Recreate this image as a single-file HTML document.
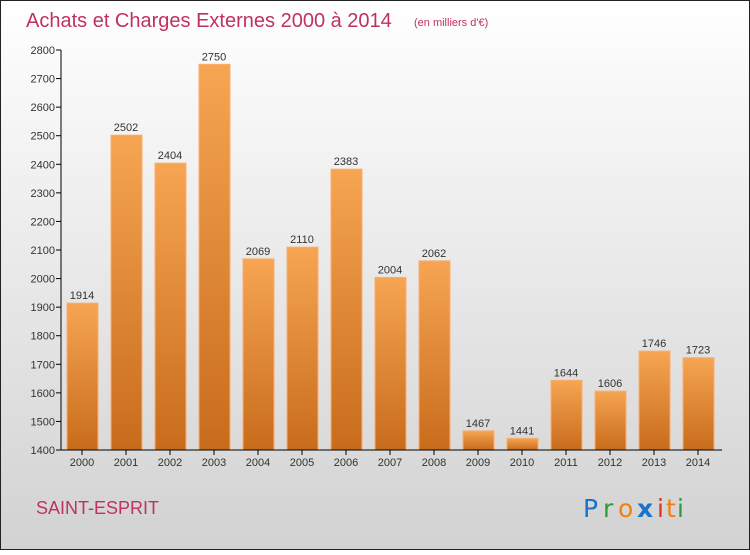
<!DOCTYPE html>
<html><head><meta charset="utf-8"><style>
html,body{margin:0;padding:0;}
body{width:750px;height:550px;overflow:hidden;font-family:"Liberation Sans",sans-serif;}
</style></head><body>
<svg id="chart" width="750" height="550" xmlns="http://www.w3.org/2000/svg">
<defs>
<linearGradient id="bg" x1="0" y1="0" x2="0" y2="1"><stop offset="0" stop-color="#ffffff"/><stop offset="1" stop-color="#d2d2d2"/></linearGradient>
<linearGradient id="bar" x1="0" y1="0" x2="0" y2="1"><stop offset="0" stop-color="#f6a553"/><stop offset="1" stop-color="#c86c1c"/></linearGradient>
</defs>
<rect x="0.5" y="0.5" width="749" height="549" fill="url(#bg)" stroke="#222"/>
<text x="26" y="27" font-size="20" fill="#c0325e">Achats et Charges Externes 2000 à 2014</text>
<text x="414" y="26" font-size="11" fill="#c0325e">(en milliers d'€)</text>
<text x="36" y="514" font-size="18" fill="#c0325e">SAINT-ESPRIT</text>
<g font-size="25" font-family="DejaVu Sans, sans-serif">
<text x="583" y="517" fill="#1a73c8">P</text><text x="603" y="517" fill="#2f9a3a">r</text><text x="618" y="517" fill="#f08010">o</text><text x="637" y="517" fill="#1a73c8" font-weight="bold">x</text><text x="657" y="517" fill="#e03020">i</text><text x="666" y="517" fill="#f08010">t</text><text x="677" y="517" fill="#2f9a3a">i</text>
</g>
<g id="plot"></g>
</svg>
<script>
const categories=["2000","2001","2002","2003","2004","2005","2006","2007","2008","2009","2010","2011","2012","2013","2014"];
const values=[1914,2502,2404,2750,2069,2110,2383,2004,2062,1467,1441,1644,1606,1746,1723];
const yTicks=[1400,1500,1600,1700,1800,1900,2000,2100,2200,2300,2400,2500,2600,2700,2800];
const NS="http://www.w3.org/2000/svg";
const g=document.getElementById('plot');
const y=v=>450-(v-1400)*400/1400;
const x=i=>82+i*44;
function mk(t,a){const e=document.createElementNS(NS,t);for(const k in a)e.setAttribute(k,a[k]);g.appendChild(e);return e;}
yTicks.forEach(t=>{
  const l=mk('line',{x1:56,x2:61,y1:y(t),y2:y(t),stroke:'#000'});
  
  
  const tx=mk('text',{x:55,y:y(t)+4,'font-size':11,fill:'#333','text-anchor':'end'});
  tx.textContent=t;
  
  
});
categories.forEach((c,i)=>{
  const r=mk('rect',{x:x(i)-15,y:y(values[i]),width:31,height:450-y(values[i]),fill:'url(#bar)',stroke:'#f8b070','stroke-width':1});
  
  
  const v=mk('text',{x:x(i),y:y(values[i])-4,'font-size':11,fill:'#333','text-anchor':'middle'});
  v.textContent=values[i];
  
  
  const tk=mk('line',{x1:x(i),x2:x(i),y1:450,y2:455,stroke:'#000'});
  
  
  const xl=mk('text',{x:x(i),y:466,'font-size':11,fill:'#333','text-anchor':'middle'});
  xl.textContent=c;
  
  
});
const ya=mk('line',{x1:61,x2:61,y1:50,y2:450,stroke:'#000'});


const xa=mk('line',{x1:61,x2:722,y1:450,y2:450,stroke:'#000'});


</script>
</body></html>
